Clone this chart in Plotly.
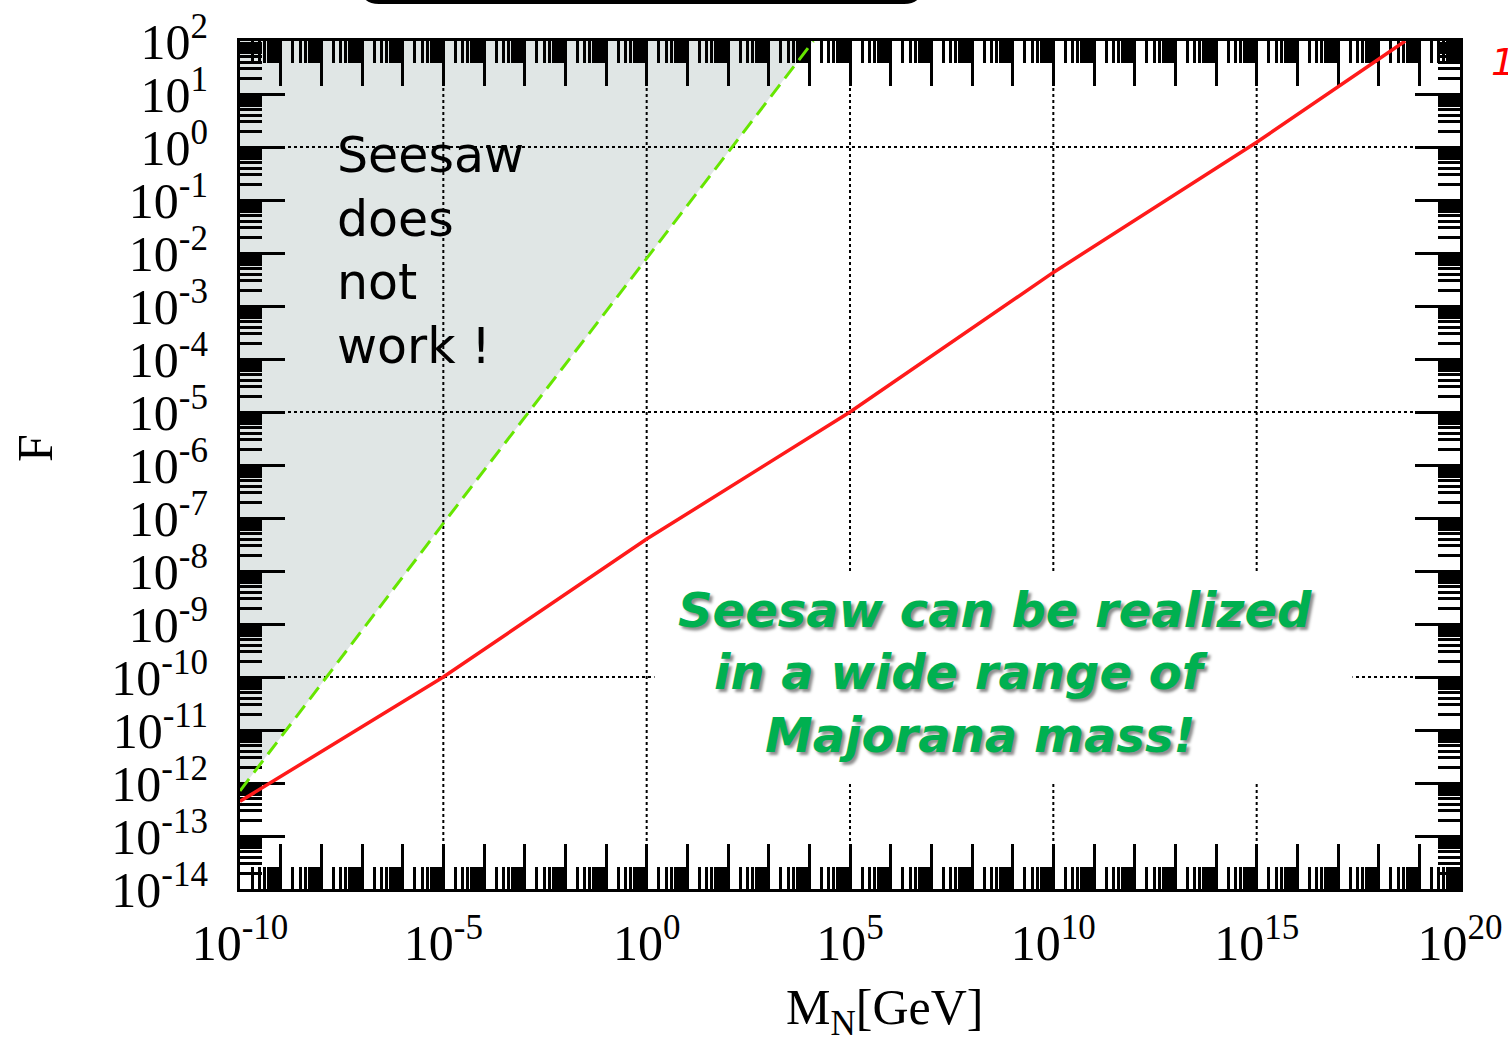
import plotly.graph_objects as go

# Axis extents (decades)
x_decades = list(range(-10, 21))
y_decades = list(range(-14, 3))
x_label_decades = [-10, -5, 0, 5, 10, 15, 20]
grid_x_decades = [-5, 0, 5, 10, 15]
grid_y_decades = [0, -5, -10]

# Seesaw boundary (green dashed): M_N [GeV] vs F
green_M = [1e-10, 1e-5, 1e0, 1.26e4]
green_F = [7.1e-13, 7.9e-8, 7.9e-3, 1e2]

# Realised Yukawa F (red): M_N [GeV] vs F
red_M = [1e-10, 1e-5, 1e0, 1e5, 1e10, 1e15, 4.5e18]
red_F = [4.5e-13, 1e-10, 4.0e-8, 1e-5, 4.3e-3, 1.23, 1e2]

SERIF = "Liberation Serif, Times New Roman, serif"
SANS = "DejaVu Sans, Verdana, sans-serif"

x_min, x_max = 10.0 ** x_decades[0], 10.0 ** x_decades[-1]
y_min, y_max = 10.0 ** y_decades[0], 10.0 ** y_decades[-1]


def sup(d):
    return f"10<sup>{d}</sup>"


def num(v):
    return f"{v:.30f}".rstrip("0").rstrip(".")


x_minor = [m * 10.0 ** d for d in x_decades[:-1] for m in range(2, 10)]
y_minor = [m * 10.0 ** d for d in y_decades[:-1] for m in range(2, 10)]

fig = go.Figure()

# Dotted grid every five decades
for d in grid_x_decades:
    fig.add_trace(go.Scatter(
        x=[10.0 ** d, 10.0 ** d], y=[y_min, y_max], mode="lines",
        line=dict(color="black", width=2, dash="dot"),
        hoverinfo="skip", showlegend=False,
    ))
for d in grid_y_decades:
    fig.add_trace(go.Scatter(
        x=[x_min, x_max], y=[10.0 ** d, 10.0 ** d], mode="lines",
        line=dict(color="black", width=2, dash="dot"),
        hoverinfo="skip", showlegend=False,
    ))

fig.add_trace(go.Scatter(
    x=green_M, y=green_F, mode="lines",
    line=dict(color="#66e600", width=3, dash="15px,8px"),
    showlegend=False,
))
fig.add_trace(go.Scatter(
    x=red_M, y=red_F, mode="lines",
    line=dict(color="#ff1a1a", width=3.5),
    showlegend=False,
))

axis_common = dict(
    type="log", automargin=False,
    showline=True, linewidth=3, linecolor="black", mirror="ticks",
    ticks="inside", ticklen=45, tickwidth=3, tickcolor="black",
    showgrid=False, zeroline=False, layer="below traces",
    tickfont=dict(family=SERIF, size=50, color="black"),
)

fig.update_xaxes(
    **axis_common,
    range=[x_decades[0], x_decades[-1]],
    tickmode="array",
    tickvals=[10.0 ** d for d in x_decades],
    ticktext=[sup(d) if d in x_label_decades else "" for d in x_decades],
    ticklabelstandoff=8,
    minor=dict(tickmode="array", tickvals=x_minor, ticks="inside",
               ticklen=22, tickwidth=2.5, tickcolor="black", showgrid=False),
)
fig.update_yaxes(
    **axis_common,
    range=[y_decades[0], y_decades[-1]],
    tickmode="array",
    tickvals=[10.0 ** d for d in y_decades],
    ticktext=[sup(d) for d in y_decades],
    ticklabelstandoff=19,
    minor=dict(tickmode="array", tickvals=y_minor, ticks="inside",
               ticklen=22, tickwidth=2.5, tickcolor="black", showgrid=False),
)

annotations = [
    # axis titles
    dict(text="M<sub>N</sub>[GeV]", xref="paper", yref="paper", x=0.528, y=-0.144,
         xanchor="center", yanchor="middle", showarrow=False,
         font=dict(family=SERIF, size=50, color="black")),
    dict(text="F", xref="paper", yref="paper", x=-0.168, y=0.52, textangle=-90,
         xanchor="center", yanchor="middle", showarrow=False,
         font=dict(family=SERIF, size=50, color="black")),
    # excluded region label
    dict(text="Seesaw<br>does<br>not<br>work !", xref="paper", yref="paper",
         x=0.0775, y=(889 - 251) / 848, xanchor="left", yanchor="middle", align="left",
         showarrow=False, font=dict(family=SANS, size=49, color="black")),
    # white panel behind the green message
    dict(text=" ", xref="paper", yref="paper", x=0.6258, y=0.2482,
         xanchor="center", yanchor="middle", width=697, height=209,
         bgcolor="white", borderpad=0, showarrow=False),
]

green_lines = [
    ("Seesaw can be realized", 676, 610),
    ("in a wide range of", 712, 672),
    ("Majorana mass!", 763, 735),
]
for text, px, py in green_lines:
    annotations.append(dict(
        text=text, xref="paper", yref="paper",
        x=(px - 240) / 1220, y=(889 - py) / 848,
        xanchor="left", yanchor="middle", showarrow=False,
        font=dict(family=SANS, size=48, color="#00b050", weight="bold",
                  style="italic", shadow="3px 3px 3px rgba(0,0,0,0.45)"),
    ))

annotations.append(dict(
    text="1", xref="paper", yref="paper", x=(1489 - 240) / 1220, y=(889 - 62) / 848,
    xanchor="left", yanchor="middle", showarrow=False,
    font=dict(family=SANS, size=38, color="#ff0000", style="italic"),
))

# Excluded region above the green boundary, drawn beneath grid and ticks
fill_pts = list(zip(green_M, green_F)) + [(x_min, y_max)]
fill_path = "M " + " L ".join(f"{num(x)},{num(y)}" for x, y in fill_pts) + " Z"

# Rounded frame peeking in at the top edge
bx0, bx1 = (363 - 240) / 1220, (920 - 240) / 1220
by_bot, by_top = (889 - 1.5) / 848, (889 + 30) / 848
rx, ry = 16 / 1220, 16 / 848
frame_path = (
    f"M {bx0},{by_top} L {bx0},{by_bot + ry} Q {bx0},{by_bot} {bx0 + rx},{by_bot} "
    f"L {bx1 - rx},{by_bot} Q {bx1},{by_bot} {bx1},{by_bot + ry} L {bx1},{by_top}"
)

fig.update_layout(
    width=1508, height=1040, autosize=False,
    margin=dict(l=240, r=48, t=41, b=151),
    paper_bgcolor="white", plot_bgcolor="white",
    showlegend=False,
    annotations=annotations,
    shapes=[
        dict(type="path", path=fill_path, xref="x", yref="y", layer="below",
             fillcolor="#e0e6e5", line=dict(width=0)),
        dict(type="path", path=frame_path, xref="paper", yref="paper",
             line=dict(color="black", width=5)),
    ],
)

fig.write_html("out.html")
